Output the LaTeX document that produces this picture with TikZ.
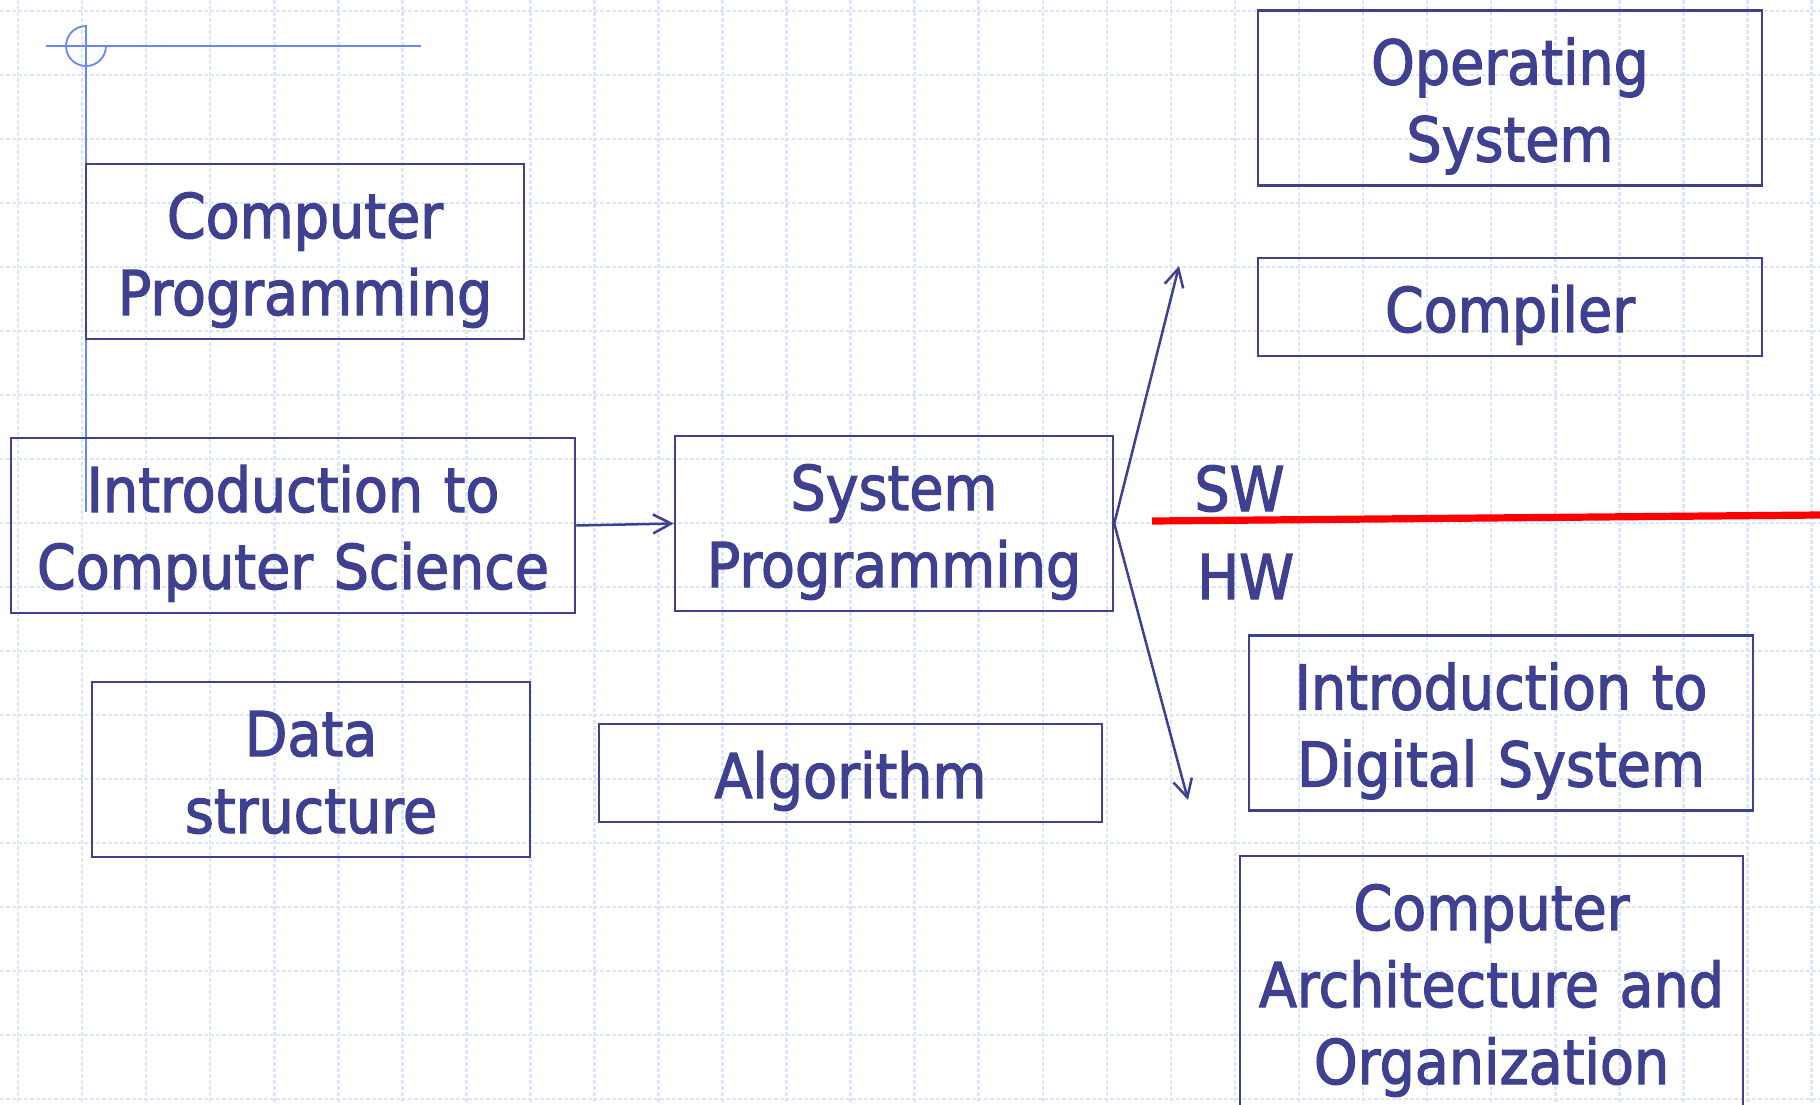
\documentclass[tikz,border=0pt]{standalone}
\usepackage{fontspec}
\usetikzlibrary{arrows.meta}
\newfontfamily\boxfont[FakeStretch=0.9,FakeBold=2]{DejaVu Sans}
\definecolor{cblue}{RGB}{63,64,143}
\definecolor{deco}{RGB}{105,135,240}
\definecolor{gridc}{RGB}{222,230,252}
\definecolor{sepred}{RGB}{255,0,0}
\begin{document}
\begin{tikzpicture}[x=0.5pt,y=-0.5pt,
  course/.style={draw=cblue, line width=1.25pt, text=cblue,
    font={\boxfont\fontsize{30.86pt}{38.5pt}\selectfont},
    inner sep=0pt, align=center, text height=37pt},
  oneline/.style={text depth=12pt},
  twoline/.style={text depth=50.5pt},
  threeline/.style={text depth=89pt},
  lbl/.style={text=cblue, font={\boxfont\fontsize{30.86pt}{38.5pt}\selectfont},
    inner sep=0pt, anchor=base west},
  conn/.style={draw=cblue, line width=1.25pt, -{Straight Barb[length=9pt,width=9.5pt]}},
  gridline/.style={draw=gridc, line width=1.3pt, dash pattern=on 2pt off 1pt},
  decoline/.style={draw=deco, line width=0.9pt}]
\useasboundingbox (0,0) rectangle (1820,1104);
\fill[white] (0,0) rectangle (1820,1104);
% background grid
\foreach \i in {0,...,28} {\draw[gridline] ({18+64.05*\i},0) -- ({18+64.05*\i},1104);}
\foreach \j in {0,...,17} {\draw[gridline] (0,{11+64*\j}) -- (1820,{11+64*\j});}
% decoration
\draw[decoline] (86,25) -- (86,512);
\draw[decoline] (46,46) -- (421,46);
\draw[decoline] (86,26) arc[start angle=270, end angle=0, radius=20];
% boxes
\node[course, twoline, text width=219pt] (cp) at (305,251.5) {Computer\\Programming};
\node[course, twoline, text width=282pt] (ics) at (293,525.5) {Introduction to\\Computer Science};
\node[course, twoline, text width=219pt] (ds) at (311,769.5) {Data\\structure};
\node[course, twoline, text width=219pt] (sp) at (894,523.5) {System\\Programming};
\node[course, oneline, text width=251.5pt] (alg) at (850.5,773) {Algorithm};
\node[course, twoline, text width=252pt] (os) at (1510,98) {Operating\\System};
\node[course, oneline, text width=252pt] (comp) at (1510,307) {Compiler};
\node[course, twoline, text width=252pt] (ids) at (1501,723) {Introduction to\\Digital System};
\node[course, threeline, text width=251.5pt] (caor) at (1491.5,982) {Computer\\Architecture and\\Organization};
% SW / HW
\draw[sepred, line width=3.6pt] (1152,521) -- (1820,515);
\node[lbl] (sw) at (1194,511) {SW};
\node[lbl] (hw) at (1197,599) {HW};
% connectors
\coordinate (swend) at (1179,266);
\coordinate (hwend) at (1188,800);
\draw[conn] (ics.east) -- (sp.west);
\draw[conn] (sp.east) -- (swend);
\draw[conn] (sp.east) -- (hwend);
\end{tikzpicture}
\end{document}
